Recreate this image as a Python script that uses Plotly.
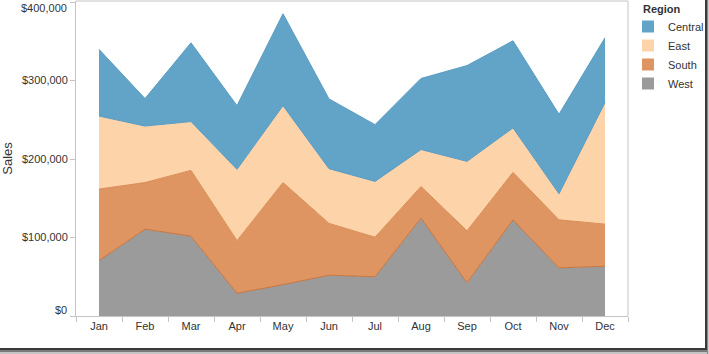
import plotly.graph_objects as go

months = ["Jan", "Feb", "Mar", "Apr", "May", "Jun", "Jul", "Aug", "Sep", "Oct", "Nov", "Dec"]
west = [70600, 110600, 101700, 29000, 40000, 52000, 50000, 124700, 42500, 122500, 61300, 63400]
south = [91100, 59400, 83800, 67000, 130000, 66000, 50400, 40300, 66000, 60500, 61200, 53600]
east = [93000, 72000, 62200, 90800, 98000, 69700, 71100, 47000, 88500, 56600, 33200, 155000]
central = [85000, 35000, 100300, 81200, 117000, 88900, 72300, 90600, 122000, 111000, 101300, 82500]
y_ticks = [0, 100000, 200000, 300000, 400000]
y_labels = ["$0", "$100,000", "$200,000", "$300,000", "$400,000"]

regions = ["West", "South", "East", "Central"]
series = {"West": west, "South": south, "East": east, "Central": central}
fills = {"Central": "#62a3c8", "East": "#fdd4aa", "South": "#de9562", "West": "#9b9b9b"}
lines = {"Central": "#5a9cc2", "East": "#5a9cc2", "South": "#d98c55", "West": "#c8753e"}

W, H = 709, 354
L, R, T, B = 76, 81, 1, 38
pw, ph = W - L - R, H - T - B

fig = go.Figure()
for r in regions:
    fig.add_trace(go.Scatter(
        x=months, y=series[r], name=r, stackgroup="one", mode="lines",
        line=dict(color=lines[r], width=1), fillcolor=fills[r], showlegend=False,
        hoverinfo="x+y+name"))

for r in ["Central", "East", "South", "West"]:
    fig.add_trace(go.Bar(x=[None], y=[None], name=r, marker=dict(color=fills[r], line=dict(width=0)),
                         showlegend=True))

def px(x):
    return (x - L) / pw

def py(y):
    return (H - B - y) / ph

shapes = []
shapes.append(dict(type="line", xref="paper", yref="paper", x0=0, x1=1, y0=1, y1=1,
                   line=dict(color="#c4c4c4", width=1)))
shapes.append(dict(type="line", xref="paper", yref="paper", x0=1, x1=1, y0=0, y1=1,
                   line=dict(color="#c4c4c4", width=1)))
for (a, b, c) in [(705, 707, "#3a3a3a"), (707, 708, "#8a8a8a"), (708, 709, "#cfcfcf")]:
    shapes.append(dict(type="rect", xref="paper", yref="paper", x0=px(a), x1=px(b), y0=py(0), y1=py(354),
                       line=dict(width=0), fillcolor=c, layer="above"))
for (a, b, c) in [(348, 350, "#3a3a3a"), (350, 352, "#7a7a7a"), (352, 354, "#c4c4c4")]:
    shapes.append(dict(type="rect", xref="paper", yref="paper", x0=px(0), x1=px(707), y0=py(a), y1=py(b),
                       line=dict(width=0), fillcolor=c, layer="above"))

# edge tick labels nudged inward (as in the reference), middle ones via the axis
tick_text = ["" if i in (0, len(y_labels) - 1) else t for i, t in enumerate(y_labels)]
annotations = [
    dict(text="<b>Region</b>", xref="paper", yref="paper", x=px(641), y=py(9),
         xanchor="left", yanchor="middle", showarrow=False, font=dict(size=11, color="#333333")),
    dict(text=y_labels[-1], xref="paper", yref="paper", x=px(69), y=py(8),
         xanchor="right", yanchor="middle", showarrow=False, font=dict(size=11, color="#333333")),
    dict(text=y_labels[0], xref="paper", yref="paper", x=px(69), y=py(310),
         xanchor="right", yanchor="middle", showarrow=False, font=dict(size=11, color="#333333")),
]

fig.update_layout(
    width=W, height=H,
    margin=dict(l=L, r=R, t=T, b=B, autoexpand=False),
    paper_bgcolor="white", plot_bgcolor="white",
    font=dict(family="Arial, Liberation Sans, sans-serif", size=11, color="#333333"),
    barmode="overlay",
    xaxis=dict(type="category", range=[-0.5, 11.5], tickson="boundaries", ticks="outside",
               ticklen=5, tickcolor="#c4c4c4", showline=True, linecolor="#c4c4c4",
               showgrid=False, zeroline=False, automargin=False,
               tickfont=dict(size=11, color="#333333")),
    yaxis=dict(range=[0, 401300], tickvals=y_ticks, ticktext=tick_text,
               automargin=False,
               ticks="outside", ticklen=5, tickcolor="#c4c4c4", showline=True, linecolor="#c4c4c4",
               showgrid=False, zeroline=False, title=dict(text="Sales", standoff=8),
               tickfont=dict(size=11, color="#333333")),
    legend=dict(x=1.0, xanchor="left", y=py(12), yanchor="top",
                font=dict(size=11, color="#333333"), traceorder="normal",
                itemclick=False, bgcolor="rgba(0,0,0,0)", tracegroupgap=0),
    annotations=annotations,
    shapes=shapes,
)

fig.write_html("out.html")
